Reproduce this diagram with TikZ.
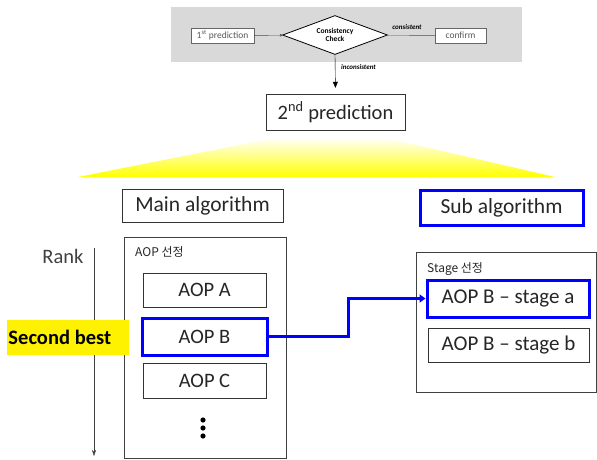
\documentclass[tikz,border=0pt]{standalone}
\usepackage{fontspec}
\setmainfont{Carlito}
\newfontfamily\kor{Noto Sans CJK KR}
\usetikzlibrary{shapes.geometric, arrows.meta}
\definecolor{band}{HTML}{D9D9D9}
\definecolor{ink}{HTML}{262626}
\definecolor{aopblue}{HTML}{0000FF}
\tikzstyle{topbox}=[draw = black!60, fill = white, inner sep = 0, minimum height = 15pt, text = black!65, font = \fontsize{9.5}{10}\selectfont]
\tikzstyle{check}=[diamond, draw, thick, fill = white, inner sep = 0, minimum width = 105pt, minimum height = 39pt, aspect = 2.7, align = center, font = \bfseries\fontsize{7.5}{8.5}\selectfont]
\tikzstyle{tag}=[inner sep = 0, font = \bfseries\itshape\fontsize{7}{8}\selectfont]
\tikzstyle{bigbox}=[draw = black!80, fill = white, inner sep = 0, text = ink, font = \fontsize{20.5}{24}\selectfont]
\tikzstyle{bluebox}=[bigbox, draw = aopblue, line width = 3pt]
\tikzstyle{panel}=[draw = black!75, line width = .8pt]
\tikzstyle{paneltitle}=[inner sep = 0, anchor = west, text = ink, font = \kor\fontsize{12}{14}\selectfont]

\begin{document}
\begin{tikzpicture}[x = 1pt, y = -1pt]
\useasboundingbox (0, 0) rectangle (597, 459);
% consistency check strip
\fill [band] (171, 7) rectangle (522, 62);
\node (pred1) at (222.5, 35.5) [topbox, minimum width = 63pt] {1\textsuperscript{st} prediction};
\node (chk) at (335, 35) [check] {Consistency\\Check};
\node (conf) at (460.5, 35.5) [topbox, minimum width = 51pt] {confirm};
\node (cons) at (407, 27) [tag] {consistent};
\node (incons) at (358.5, 67) [tag] {inconsistent};
\draw [-{Stealth[length = 3pt, width = 3pt]}, black!70] (pred1) to (chk);
\draw [black!70] (chk) to (conf);
\node (pred2) at (335.5, 112) [bigbox, minimum width = 139pt, minimum height = 36pt] {2\textsuperscript{nd} prediction};
\draw [-{Triangle[length = 6pt, width = 5pt]}, shorten >= 6pt] (chk.south) to (pred2.north);
% spread towards the two algorithms
\shade [top color = white, bottom color = yellow] (78, 177) -- (279, 137) -- (382, 137) -- (555, 177) -- cycle;
\node (main) at (202.5, 205.5) [bigbox, minimum width = 161pt, minimum height = 33pt, font = \fontsize{21.5}{24}\selectfont] {Main algorithm};
\node (sub) at (501.5, 207.5) [bluebox, minimum width = 163pt, minimum height = 35pt, font = \fontsize{21.5}{24}\selectfont] {Sub algorithm};
%%%%%%%%%%%%%%%%%%%%%%%
% rank axis
\node (rank) at (63, 256) [inner sep = 0, text = black!75, font = \fontsize{20.5}{24}\selectfont] {Rank};
\coordinate (rtop) at (94, 248);
\coordinate (rend) at (94, 456);
\draw [-{Stealth[length = 6pt, width = 4pt]}, black!75] (rtop) to (rend);
%%%%%%%%%%%%%%%%%%%%%%%
% AOP panel
\draw [panel] (124, 237) rectangle (286, 458);
\node (aoptitle) at (135, 252) [paneltitle] {AOP 선정};
\node (second) at (68, 337.5) [fill = yellow, inner xsep = 1.5pt, inner ysep = 0, text width = 119pt, minimum height = 35pt, align = left, font = \bfseries\fontsize{20.5}{22}\selectfont] {Second\hspace{-2pt} best};
\node (aopA) at (204.5, 290) [bigbox, minimum width = 123pt, minimum height = 34pt] {AOP A};
\node (aopB) at (204.5, 336.5) [bluebox, minimum width = 125pt, minimum height = 37pt] {AOP B};
\node (aopC) at (204.5, 380.5) [bigbox, minimum width = 123pt, minimum height = 35pt] {AOP C};
\foreach \y in {420, 428, 436}
  \fill (203, \y) circle (2.6pt);
% stage panel
\draw [panel] (416, 252) rectangle (596, 392);
\node (stagetitle) at (427, 269) [paneltitle] {Stage 선정};
\node (stageA) at (508, 298.5) [bluebox, minimum width = 162pt, minimum height = 37pt, font = \fontsize{21}{24}\selectfont] {AOP B -- stage a};
\node (stageB) at (508.5, 345) [bigbox, minimum width = 161pt, minimum height = 34pt, font = \fontsize{21}{24}\selectfont] {AOP B -- stage b};
%%%%%%%%%%%%%%%%%%%%%%%
\coordinate (bend) at (348, 336.5);
\draw [aopblue, line width = 3pt, -{Triangle[length = 6pt, width = 8pt]}] (aopB.east) -- (bend) |- (stageA.west);
\end{tikzpicture}
\end{document}
